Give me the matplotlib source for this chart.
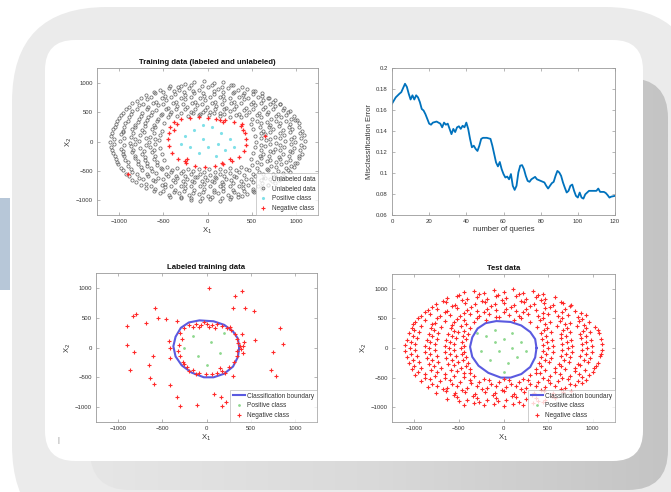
import matplotlib
matplotlib.use('Agg')
import matplotlib.pyplot as plt
import numpy as np
from matplotlib.patches import FancyBboxPatch, Rectangle
from matplotlib.colors import LinearSegmentedColormap
from matplotlib.lines import Line2D

plt.rcParams['font.family'] = ['Liberation Sans', 'DejaVu Sans']

# ---------------- data ----------------
# Training data: unlabeled points (gray)
unlab_pts = [
    (-260, 975), (-150, 1005), (-40, 1030), (70, 990), (180, 1015), (290, 960), (-330, 930),
    (-540, 870), (-430, 905), (-320, 880), (-210, 915), (-100, 870), (10, 920), (120, 885), (230, 905), (340, 870), (450, 895), (540, 860),
    (-700, 790), (-590, 820), (-480, 775), (-370, 815), (-260, 790), (-150, 830), (-40, 780), (70, 815), (180, 770), (290, 825), (400, 790), (510, 805), (620, 770), (700, 735),
    (-800, 690), (-690, 720), (-580, 680), (-470, 705), (-360, 670), (-250, 715), (-140, 680), (-30, 700), (80, 665), (190, 710), (300, 680), (410, 715), (520, 670), (630, 700), (740, 675), (820, 640),
    (-890, 590), (-780, 615), (-670, 580), (-560, 620), (-450, 575), (-340, 605), (-230, 580), (-120, 615), (-10, 585), (100, 610), (210, 575), (320, 600), (430, 570), (540, 615), (650, 585), (760, 610), (870, 575),
    (-960, 490), (-850, 515), (-740, 480), (-630, 505), (-520, 470), (-410, 510), (-300, 485), (-190, 510), (-80, 470), (30, 500), (140, 480), (250, 515), (360, 470), (470, 505), (580, 480), (690, 510), (800, 475), (910, 500),
    (-1000, 400), (-890, 420), (-780, 385), (-670, 410), (-560, 375), (-450, 415), (-340, 430), (-220, 440), (-100, 445), (20, 450), (140, 435), (260, 425), (380, 410), (500, 390), (610, 420), (720, 385), (830, 410), (940, 390), (1010, 360),
    (-1040, 300), (-930, 320), (-820, 285), (-710, 310), (-600, 280), (-490, 315), (490, 300), (600, 320), (710, 285), (820, 315), (930, 290), (1040, 310),
    (-1070, 210), (-960, 185), (-850, 215), (-740, 190), (-630, 220), (-520, 180), (520, 205), (630, 180), (740, 215), (850, 190), (960, 210), (1070, 180),
    (-1090, 100), (-980, 120), (-870, 85), (-760, 110), (-650, 80), (-540, 115), (540, 95), (650, 120), (760, 85), (870, 110), (980, 80), (1090, 105),
    (-1100, -10), (-990, 15), (-880, -20), (-770, 10), (-660, -15), (-550, 20), (550, -5), (660, 20), (770, -20), (880, 5), (990, -15), (1100, 10),
    (-1090, -95), (-980, -120), (-870, -85), (-760, -115), (-650, -90), (-540, -110), (540, -100), (650, -85), (760, -120), (870, -95), (980, -115), (1090, -90),
    (-1070, -195), (-960, -220), (-850, -185), (-740, -210), (-630, -180), (-520, -215), (520, -190), (630, -220), (740, -185), (850, -210), (960, -180), (1070, -205),
    (-1040, -290), (-930, -315), (-820, -285), (-710, -320), (-600, -295), (-490, -310), (490, -300), (600, -285), (710, -320), (820, -290), (930, -310), (1040, -280),
    (-1010, -390), (-900, -415), (-790, -380), (-680, -420), (-570, -395), (-460, -430), (-340, -450), (-220, -470), (-100, -460), (20, -475), (140, -465), (260, -450), (380, -430), (500, -405), (610, -390), (720, -420), (830, -385), (940, -410), (1010, -370),
    (-960, -490), (-850, -515), (-740, -480), (-630, -510), (-520, -475), (-410, -520), (-300, -540), (-190, -560), (-80, -550), (30, -570), (140, -555), (250, -540), (360, -515), (470, -490), (580, -520), (690, -480), (800, -510), (910, -485),
    (-890, -590), (-780, -620), (-670, -585), (-560, -615), (-450, -580), (-340, -625), (-230, -640), (-120, -610), (-10, -650), (100, -620), (210, -645), (320, -610), (430, -630), (540, -595), (650, -620), (760, -585), (870, -605),
    (-810, -690), (-700, -715), (-590, -680), (-480, -720), (-370, -690), (-260, -725), (-150, -695), (-40, -720), (70, -690), (180, -725), (290, -700), (400, -720), (510, -685), (620, -710), (730, -680), (810, -650),
    (-700, -790), (-590, -815), (-480, -780), (-370, -820), (-260, -795), (-150, -830), (-40, -800), (70, -825), (180, -790), (290, -820), (400, -795), (510, -815), (620, -780), (690, -740),
    (-540, -880), (-430, -910), (-320, -875), (-210, -915), (-100, -890), (10, -925), (120, -880), (230, -910), (340, -885), (450, -900), (530, -860),
    (-300, -960), (-190, -995), (-80, -1020), (30, -985), (140, -1010), (250, -970), (350, -940),
]
unlab_pts2 = [
    (-420, 945), (-300, 950), (-190, 960), (-60, 940), (50, 965), (160, 935), (270, 955), (390, 930),
    (-610, 850), (-500, 835), (-380, 860), (-270, 845), (-160, 855), (-50, 830), (70, 860), (180, 845), (300, 850), (410, 830), (520, 855), (620, 820),
    (-750, 745), (-640, 760), (-520, 735), (-410, 755), (-300, 745), (-190, 760), (-80, 735), (30, 750), (140, 760), (250, 740), (360, 755), (460, 735), (570, 750), (680, 740), (760, 710),
    (-850, 650), (-730, 640), (-620, 660), (-500, 645), (-390, 655), (-280, 640), (-170, 660), (-60, 645), (50, 655), (160, 640), (270, 650), (380, 660), (490, 640), (600, 655), (710, 645), (820, 630),
    (-920, 550), (-800, 545), (-690, 560), (-580, 540), (-470, 555), (-360, 550), (-250, 545), (-140, 560), (-30, 540), (80, 555), (190, 545), (300, 550), (410, 540), (520, 560), (630, 545), (740, 550), (850, 540), (930, 520),
    (-980, 450), (-870, 460), (-750, 440), (-640, 455), (-530, 445), (-420, 460), (-160, 480), (-50, 495), (70, 485), (190, 470), (320, 455), (440, 450), (560, 445), (670, 460), (780, 440), (890, 455), (980, 430),
    (-1020, 350), (-900, 355), (-790, 340), (-680, 360), (-570, 345), (560, 350), (670, 340), (780, 355), (890, 345), (990, 360),
    (-1050, 250), (-940, 255), (-820, 245), (-710, 260), (-590, 250), (590, 255), (700, 245), (810, 260), (920, 250), (1030, 255),
    (-1080, 150), (-960, 155), (-840, 145), (-720, 160), (-600, 150), (600, 145), (710, 160), (820, 150), (930, 155), (1050, 145),
    (-1060, 50), (-940, 55), (-820, 45), (-700, 60), (-590, 50), (600, 55), (710, 45), (820, 60), (940, 50), (1060, 55),
    (-1060, -50), (-940, -55), (-820, -45), (-700, -60), (-590, -50), (600, -55), (710, -45), (820, -60), (940, -50), (1060, -55),
    (-1080, -150), (-960, -155), (-840, -145), (-720, -160), (-600, -150), (600, -145), (710, -160), (820, -150), (930, -155), (1050, -145),
    (-1050, -250), (-940, -255), (-820, -245), (-710, -260), (-590, -250), (590, -255), (700, -245), (810, -260), (920, -250), (1030, -255),
    (-1020, -350), (-900, -355), (-790, -340), (-680, -360), (-570, -345), (560, -350), (670, -340), (780, -355), (890, -345), (990, -360),
    (-980, -450), (-870, -460), (-750, -440), (-640, -455), (-530, -445), (-400, -480), (-280, -500), (-160, -510), (-40, -520), (80, -515), (200, -505), (320, -490), (440, -465), (560, -445), (670, -460), (780, -440), (890, -455), (980, -430),
    (-920, -550), (-800, -545), (-690, -560), (-580, -540), (-470, -555), (-360, -580), (-250, -595), (-140, -600), (-30, -605), (80, -600), (190, -595), (300, -580), (410, -565), (520, -560), (630, -545), (740, -550), (850, -540), (930, -520),
    (-850, -650), (-730, -640), (-620, -660), (-500, -645), (-390, -655), (-280, -680), (-170, -665), (-60, -680), (50, -670), (160, -685), (270, -660), (380, -665), (490, -640), (600, -655), (710, -645), (820, -630),
    (-750, -745), (-640, -760), (-520, -735), (-410, -755), (-300, -765), (-190, -760), (-80, -755), (30, -765), (140, -760), (250, -750), (360, -755), (460, -745), (570, -750), (680, -740), (760, -710),
    (-610, -850), (-500, -835), (-380, -860), (-270, -845), (-160, -870), (-50, -860), (70, -865), (180, -850), (300, -855), (410, -845), (520, -835), (620, -810),
    (-420, -940), (-300, -950), (-190, -960), (-60, -965), (50, -950), (160, -960), (270, -945), (390, -920),
]
# Training data: labeled negative (red) and positive (cyan)
train_neg_pts = [
    (-420, 250), (-380, 330), (-300, 380), (-200, 400), (-100, 410), (0, 395), (100, 380), (200, 370), (300, 330),
    (380, 260), (420, 150), (440, 50), (430, -60), (410, -170), (360, -270), (280, -340), (180, -390), (80, -420),
    (-30, -430), (-140, -410), (-240, -360), (-330, -290), (-400, -190), (-440, -80), (-450, 40), (-440, 150),
    (-230, -300), (-260, -330), (140, 360), (170, 340), (390, 300), (400, 200), (-350, 300), (-380, 200),
    (160, -360), (250, -300), (-900, -550), (650, 100),
]
train_pos_pts = [
    (-250, 100), (-150, 200), (-50, 50), (50, 250), (150, 150), (250, 50), (-200, -100), (-100, -200),
    (0, -100), (100, -250), (200, -150), (-300, -50), (300, -100), (-50, 280), (120, -50),
]

# Misclassification error vs number of queries
queries = [0, 2, 4, 5, 7, 8, 9, 10, 11, 12, 13, 14, 15, 16, 17, 18, 19, 20, 21, 22,
           24, 26, 27, 28, 29, 30, 31, 32, 33, 34, 35, 36, 37, 38, 39, 40, 41, 42, 43, 44,
           45, 46, 47, 48, 49, 51, 53, 54, 55, 56, 57, 58, 59, 60, 61, 62, 63, 64, 65, 66,
           67, 68, 69, 70, 71, 72, 73, 74, 75, 77, 78, 80, 82, 83, 84, 85, 86, 87, 88, 89,
           90, 91, 92, 93, 94, 95, 96, 97, 98, 99, 100, 101, 102, 103, 104, 106, 108, 110, 111, 112,
           114, 115, 116, 117, 118, 120]
error = [0.166, 0.172, 0.1755, 0.177, 0.185, 0.182, 0.1755, 0.170, 0.174, 0.170,
         0.174, 0.172, 0.1675, 0.161, 0.1595, 0.156, 0.1515, 0.147, 0.146, 0.148,
         0.149, 0.147, 0.1435, 0.148, 0.146, 0.147, 0.142, 0.137, 0.142, 0.139,
         0.1435, 0.1445, 0.142, 0.145, 0.1435, 0.148, 0.142, 0.1325, 0.1245, 0.126,
         0.123, 0.121, 0.126, 0.1325, 0.1335, 0.1335, 0.1325, 0.126, 0.118, 0.110,
         0.1063, 0.1105, 0.1037, 0.099, 0.0957, 0.0966, 0.094, 0.099, 0.0878, 0.0839,
         0.0878, 0.1005, 0.107, 0.1075, 0.1037, 0.0973, 0.0925, 0.0916, 0.094, 0.0963,
         0.094, 0.0925, 0.091, 0.0878, 0.0852, 0.0878, 0.0903, 0.0916, 0.0973, 0.102,
         0.1005, 0.0973, 0.091, 0.086, 0.0814, 0.083, 0.0878, 0.089, 0.083, 0.0782,
         0.0766, 0.0814, 0.0766, 0.0756, 0.0797, 0.083, 0.083, 0.083, 0.0852, 0.082,
         0.082, 0.081, 0.079, 0.0766, 0.0775, 0.0782]

# Classification boundary (closed curve)
boundary_pts = [
    (370, 0), (355, 150), (300, 270), (200, 380), (80, 440), (-80, 455), (-200, 420), (-290, 330),
    (-350, 180), (-375, 20), (-350, -150), (-280, -300), (-170, -420), (-30, -500), (80, -500),
    (200, -440), (300, -320), (355, -160), (370, 0),
]

# Labeled training data
lab_neg_pts = [
    (30, 997), (324, 867), (404, 940), (297, 657), (430, 668), (533, 612), (-579, 668), (-796, 555),
    (-826, 527), (-895, 357), (-686, 414), (-549, 499), (-457, 482), (-331, 442), (-903, 34), (-815, -79),
    (-606, -142), (-648, -295), (-865, -380), (-636, -510), (-590, -606), (-408, -623), (-331, -833),
    (-301, -986), (-103, -963), (164, -833), (175, -986), (221, -918), (297, -476), (545, 130), (411, -96),
    (411, 17), (754, -68), (830, 329), (861, 57), (724, -380), (785, -476), (-427, 102), (-408, -170),
    (-415, 0), (80, -776),
    (-250, 330), (-200, 380), (-120, 400), (-60, 370), (0, 390), (-30, 420), (60, 380), (120, 400),
    (180, 360), (230, 330), (280, 290), (320, 230), (340, 150), (360, 80), (380, 20), (350, -60),
    (340, -150), (310, -250), (250, -330), (180, -390), (120, -420), (60, -450), (-10, -440), (-80, -420),
    (-150, -380), (-220, -320), (-270, -250), (-300, -150), (-320, -60), (-310, 40), (-280, 150),
    (-300, 250), (-150, 350), (-90, 340), (100, 330), (270, 340), (400, 220), (420, 100), (-200, -400),
    (-120, -450), (150, -350), (210, -420), (-250, -270), (390, -30), (30, 350),
]
lab_pos_pts = [(-150, 200), (50, 100), (150, -100), (-100, -150), (200, 250), (-250, 0), (0, -300)]

# Test data
test_neg_pts = [
    (-440, 940), (-330, 965), (-220, 930), (-110, 975), (0, 945), (110, 990), (220, 935), (330, 960), (440, 920),
    (-630, 840), (-520, 870), (-410, 835), (-300, 860), (-190, 825), (-80, 870), (30, 840), (140, 875), (250, 830), (360, 865), (470, 835), (580, 855),
    (-760, 745), (-650, 770), (-540, 730), (-430, 760), (-320, 735), (-210, 775), (-100, 740), (10, 765), (120, 725), (230, 770), (340, 740), (450, 765), (560, 730), (670, 760), (760, 720),
    (-850, 640), (-740, 665), (-630, 630), (-520, 670), (-410, 645), (-300, 625), (-190, 660), (-80, 635), (30, 665), (140, 630), (250, 660), (360, 640), (470, 670), (580, 630), (690, 655), (800, 625),
    (-930, 545), (-820, 570), (-710, 535), (-600, 565), (-490, 540), (-380, 575), (-270, 545), (-160, 570), (-50, 530), (60, 560), (170, 535), (280, 570), (390, 545), (500, 575), (610, 540), (720, 565), (830, 530), (920, 555),
    (-990, 440), (-880, 465), (-770, 430), (-660, 460), (-550, 435), (-440, 470), (-330, 445), (-200, 480), (120, 475), (300, 440), (410, 465), (520, 435), (630, 460), (740, 430), (850, 455), (960, 440),
    (-1030, 345), (-920, 370), (-810, 335), (-700, 360), (-590, 340), (-480, 375), (-380, 330), (380, 350), (490, 330), (600, 365), (710, 340), (820, 370), (930, 335), (1030, 355),
    (-1060, 245), (-950, 270), (-840, 235), (-730, 260), (-620, 240), (-510, 270), (-400, 235), (420, 250), (530, 270), (640, 235), (750, 265), (860, 240), (970, 270), (1070, 245),
    (-1080, 140), (-970, 165), (-860, 135), (-750, 160), (-640, 130), (-530, 170), (-420, 145), (430, 150), (540, 130), (650, 165), (760, 140), (870, 170), (980, 135), (1090, 160),
    (-1100, 45), (-990, 70), (-880, 35), (-770, 60), (-660, 30), (-550, 65), (-440, 40), (440, 55), (550, 30), (660, 65), (770, 40), (880, 70), (990, 35), (1100, 60),
    (-1100, -55), (-990, -30), (-880, -65), (-770, -40), (-660, -70), (-550, -35), (-440, -60), (440, -45), (550, -70), (660, -35), (770, -60), (880, -30), (990, -65), (1100, -40),
    (-1080, -160), (-970, -135), (-860, -165), (-750, -140), (-640, -170), (-530, -130), (-420, -155), (420, -150), (530, -170), (640, -135), (750, -160), (860, -130), (970, -165), (1080, -140),
    (-1060, -255), (-950, -230), (-840, -265), (-730, -240), (-620, -270), (-510, -235), (-400, -260), (400, -250), (510, -230), (620, -265), (730, -240), (840, -270), (950, -235), (1060, -260),
    (-1030, -355), (-920, -330), (-810, -365), (-700, -340), (-590, -370), (-480, -335), (-370, -360), (360, -350), (470, -370), (580, -335), (690, -360), (800, -330), (910, -365), (1020, -340),
    (-990, -460), (-880, -435), (-770, -470), (-660, -440), (-550, -475), (-440, -430), (-330, -465), (300, -455), (410, -430), (520, -470), (630, -440), (740, -475), (850, -435), (960, -460),
    (-930, -555), (-820, -530), (-710, -565), (-600, -535), (-490, -570), (-380, -540), (-270, -575), (-160, -545), (-50, -570), (60, -540), (170, -575), (280, -545), (390, -570), (500, -535), (610, -565), (720, -530), (830, -560), (920, -540),
    (-850, -660), (-740, -635), (-630, -670), (-520, -640), (-410, -675), (-300, -645), (-190, -670), (-80, -635), (30, -665), (140, -640), (250, -670), (360, -635), (470, -665), (580, -640), (690, -670), (800, -630),
    (-760, -755), (-650, -730), (-540, -765), (-430, -735), (-320, -770), (-210, -740), (-100, -765), (10, -730), (120, -770), (230, -745), (340, -760), (450, -730), (560, -765), (670, -740), (760, -720),
    (-630, -860), (-520, -835), (-410, -870), (-300, -840), (-190, -875), (-80, -845), (30, -870), (140, -835), (250, -865), (360, -840), (470, -870), (580, -845),
    (-440, -960), (-330, -935), (-220, -970), (-110, -940), (0, -975), (110, -945), (220, -965), (330, -930), (440, -920),
]
test_neg_pts2 = [
    (-500, 895), (-280, 905), (-60, 900), (170, 910), (390, 890),
    (-680, 795), (-460, 805), (-240, 790), (-20, 810), (200, 795), (420, 805), (640, 785),
    (-800, 700), (-580, 710), (-360, 695), (-140, 705), (80, 700), (300, 710), (520, 695), (740, 705),
    (-880, 600), (-660, 610), (-440, 595), (-220, 605), (0, 600), (220, 610), (440, 595), (660, 605), (870, 590),
    (-960, 500), (-740, 505), (-520, 495), (-300, 510), (-80, 520), (200, 510), (440, 500), (660, 505), (880, 495),
    (-1010, 400), (-800, 405), (-580, 395), (-420, 400), (470, 400), (690, 405), (900, 395),
    (-1000, 300), (-780, 305), (-560, 295), (-440, 290), (450, 300), (670, 305), (890, 295), (1060, 300),
    (-1020, 200), (-800, 205), (-580, 195), (-450, 210), (480, 200), (700, 205), (920, 195),
    (-1040, 100), (-820, 105), (-600, 95), (-470, 100), (490, 100), (710, 105), (930, 95),
    (-1050, 0), (-830, 5), (-610, -5), (-480, 0), (500, 0), (720, 5), (940, -5),
    (-1040, -100), (-820, -105), (-600, -95), (-470, -100), (480, -100), (700, -105), (920, -95), (1090, -100),
    (-1020, -200), (-800, -205), (-580, -195), (-450, -210), (460, -200), (680, -205), (900, -195),
    (-1000, -300), (-780, -305), (-560, -295), (-420, -300), (420, -300), (640, -305), (860, -295), (1040, -300),
    (-960, -400), (-740, -405), (-520, -395), (-380, -420), (360, -420), (580, -405), (800, -395), (1000, -400),
    (-880, -500), (-660, -505), (-440, -495), (-220, -520), (0, -530), (220, -520), (440, -500), (660, -505), (880, -495),
    (-800, -600), (-580, -610), (-360, -595), (-140, -605), (80, -600), (300, -610), (520, -595), (740, -605), (880, -590),
    (-680, -700), (-460, -710), (-240, -695), (-20, -705), (200, -700), (420, -710), (640, -695),
    (-560, -800), (-340, -805), (-120, -795), (100, -810), (320, -795), (540, -805),
    (-500, -900), (-280, -905), (-60, -895), (170, -910), (390, -890),
]
test_pos_pts = [
    (-200, 200), (-100, 300), (0, 150), (100, 250), (200, 100), (-250, -50), (-150, -200), (-50, -50),
    (50, -250), (150, -150), (250, -50), (-100, 100), (100, 0), (0, -400), (-300, 250),
]

scatter_ticks = [-1000, -500, 0, 500, 1000]
error_xticks = [0, 20, 40, 60, 80, 100, 120]
error_yticks = [0.06, 0.08, 0.10, 0.12, 0.14, 0.16, 0.18, 0.20]
error_yticklabels = ['0.06', '0.08', '0.1', '0.12', '0.14', '0.16', '0.18', '0.2']

# ---------------- figure ----------------
W, H = 671, 492
fig = plt.figure(figsize=(W / 100, H / 100), dpi=100)
fig.patch.set_facecolor('white')

bg = fig.add_axes([0, 0, 1, 1])
bg.set_xlim(0, W)
bg.set_ylim(H, 0)
bg.axis('off')
bg.set_zorder(-5)

def rbox(x0, y0, x1, y1, r, color):
    p = FancyBboxPatch((x0, y0), x1 - x0, y1 - y0,
                       boxstyle=f"round,pad=0,rounding_size={r}",
                       facecolor=color, edgecolor='none')
    bg.add_patch(p)
    return p

bg.add_patch(Rectangle((0, 198), 10, 92, facecolor='#b7c7d8', edgecolor='none'))
rbox(12, 7, 700, 540, 95, '#ebebeb')
# drop shadow with a left-to-right gradient
shadow = rbox(90, 78, 668, 490, 40, 'none')
grad_cmap = LinearSegmentedColormap.from_list('sh', ['#e6e6e6', '#d9d9d9', '#c4c4c4'])
im = bg.imshow(np.linspace(0, 1, 256).reshape(1, -1), cmap=grad_cmap, aspect='auto',
               extent=(90, 668, 490, 78), interpolation='bilinear', zorder=1)
im.set_clip_path(shadow)
panel = rbox(45, 40, 643, 461, 30, 'white')
panel.set_zorder(2)
bg.text(58, 440, '|', fontsize=5, color='#888888', ha='center', va='center', zorder=3)

def add_ax(l, t, r, b):
    return fig.add_axes([l / W, 1 - b / H, (r - l) / W, (b - t) / H])

tick_fs = 4.3
label_fs = 5.5
title_fs = 5.6
edge_col = '#9a9a9a'
txt_col = '#333333'

def style(ax):
    for s in ax.spines.values():
        s.set_color(edge_col)
        s.set_linewidth(0.6)
    ax.tick_params(direction='in', length=2, width=0.5, colors=edge_col,
                   labelsize=tick_fs, labelcolor=txt_col, pad=3,
                   top=True, right=True)

def scatter_axes(ax, title):
    ax.set_xlim(-1250, 1250)
    ax.set_ylim(-1250, 1250)
    ax.set_xticks(scatter_ticks)
    ax.set_yticks(scatter_ticks)
    style(ax)
    ax.set_xlabel('X$_1$', fontsize=label_fs, color=txt_col, labelpad=1)
    ax.set_ylabel('X$_2$', fontsize=label_fs, color=txt_col, labelpad=1)
    if title:
        ax.set_title(title, fontsize=title_fs, fontweight='bold', color='#111111', pad=3)

def xy(pts):
    return [p[0] for p in pts], [p[1] for p in pts]

def style_legend(lg):
    lg.get_frame().set_edgecolor('#aaaaaa')
    lg.get_frame().set_linewidth(0.5)
    for t in lg.get_texts():
        t.set_color(txt_col)

gray = '#6a6a6a'
red = '#ff2a2a'
cyan = '#7fe0e8'
green = '#8fd88f'
blue = '#0072BD'
bcol = '#5a5ae0'

# Top-left: training data
ax1 = add_ax(97, 68, 318, 215)
for pts in (unlab_pts, unlab_pts2):
    ux, uy = xy(pts)
    ax1.plot(ux, uy, 'o', ms=2.3, mfc='none', mec=gray, mew=0.55, ls='none')
px, py = xy(train_pos_pts)
ax1.plot(px, py, '.', ms=2.5, color=cyan, ls='none')
nx, ny = xy(train_neg_pts)
ax1.plot(nx, ny, '+', ms=3, color=red, mew=0.9, ls='none')
scatter_axes(ax1, 'Training data (labeled and unlabeled)')
h1 = [Line2D([], [], marker='.', ms=2, color='#dddddd', ls='none'),
      Line2D([], [], marker='o', ms=2, mfc='none', mec=gray, mew=0.6, ls='none'),
      Line2D([], [], marker='.', ms=2.5, color=cyan, ls='none'),
      Line2D([], [], marker='+', ms=2.5, color=red, mew=0.8, ls='none')]
leg = ax1.legend(h1, ['Unlabeled data', 'Unlabeled data', 'Positive class', 'Negative class'],
                 loc='lower right', fontsize=4.7, frameon=True, fancybox=False,
                 borderpad=0.4, handlelength=1.2, handletextpad=0.8, labelspacing=0.45,
                 borderaxespad=0.0)
style_legend(leg)

# Top-right: error curve
ax2 = add_ax(392, 68, 615, 215)
ax2.plot(queries, error, color=blue, lw=1.3)
ax2.set_xlim(0, 120)
ax2.set_ylim(0.06, 0.2)
ax2.set_xticks(error_xticks)
ax2.set_yticks(error_yticks)
ax2.set_yticklabels(error_yticklabels)
style(ax2)
ax2.set_xlabel('number of queries', fontsize=label_fs, color=txt_col, labelpad=1)
ax2.set_ylabel('Misclassification Error', fontsize=label_fs, color=txt_col, labelpad=2)

# Bottom-left: labeled training data
ax3 = add_ax(96, 273, 317, 422)
bx, by = xy(boundary_pts)
ax3.plot(bx, by, color=bcol, lw=1.5, zorder=3)
lx, ly = xy(lab_pos_pts)
ax3.plot(lx, ly, '.', ms=2, color=green, ls='none')
mx, my = xy(lab_neg_pts)
ax3.plot(mx, my, '+', ms=3, color=red, mew=0.8, ls='none', zorder=4)
scatter_axes(ax3, 'Labeled training data')

# Bottom-right: test data
ax4 = add_ax(392, 274, 615, 422)
ax4.plot(bx, by, color=bcol, lw=1.5, zorder=3)
tx, ty = xy(test_pos_pts)
ax4.plot(tx, ty, '.', ms=2, color=green, ls='none')
for pts in (test_neg_pts, test_neg_pts2):
    sx, sy = xy(pts)
    ax4.plot(sx, sy, '+', ms=2.8, color=red, mew=0.8, ls='none', zorder=4)
scatter_axes(ax4, 'Test data')

for ax in (ax3, ax4):
    h = [Line2D([], [], color=bcol, lw=1.5),
         Line2D([], [], marker='.', ms=2, color=green, ls='none'),
         Line2D([], [], marker='+', ms=2.5, color=red, mew=0.8, ls='none')]
    lg = ax.legend(h, ['Classification boundary', 'Positive class', 'Negative class'],
                   loc='lower right', fontsize=4.7, frameon=True, fancybox=False,
                   borderpad=0.4, handlelength=1.8, handletextpad=0.4, labelspacing=0.45,
                   borderaxespad=0.0)
    style_legend(lg)

fig.savefig('out.png', dpi=100, facecolor='white')
